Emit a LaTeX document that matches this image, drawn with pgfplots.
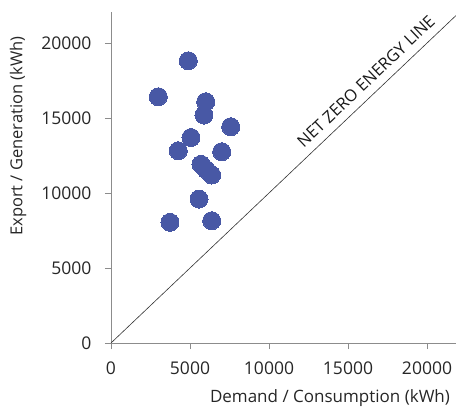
\documentclass[border=0pt]{standalone}
\usepackage{pgfplots}
\pgfplotsset{compat=1.18}
\usepackage{fontspec}
\setmainfont{Open Sans}
\definecolor{dotblue}{RGB}{72,88,165}
\definecolor{axgray}{RGB}{140,140,140}
\begin{document}
\begin{tikzpicture}
\useasboundingbox (-111pt,-65pt) rectangle (345pt,343pt);
\begin{axis}[
  scale only axis,
  width=345pt, height=331pt,
  xmin=0, xmax=21835, ymin=0, ymax=22070,
  axis x line=bottom, axis y line=left,
  axis line style={axgray, -},
  xtick={0,5000,10000,15000,20000},
  ytick={0,5000,10000,15000,20000},
  tick style={axgray, line width=0.6pt},
  tick align=outside,
  major tick length=6pt,
  scaled ticks=false,
  /pgf/number format/assume math mode=true,
  /pgf/number format/1000 sep={},
  ticklabel style={font=\fontsize{17.5}{19}\selectfont, text=black!85},
  xticklabel style={yshift=-9pt},
  yticklabel style={xshift=-10pt},
  clip=false,
]
\addplot[only marks, mark=*, mark size=9pt, color=dotblue, mark options={draw=dotblue, fill=dotblue, line width=0pt}] coordinates {
(2994,16420) (4892,18820) (5994,16087) (5886,15200) (7576,14420)
(5063,13700) (4259,12820) (7006,12753) (5696,11913) (6032,11553)
(6373,11200) (5570,9600) (3734,8047) (6373,8153)
};
\addplot[black!80, line width=0.6pt] coordinates {(0,0) (21835,21835)};
\node[rotate=43.5, anchor=south, inner sep=0pt, inner ysep=8pt, font=\fontsize{16.5}{18}\selectfont, text=black!90] at (axis cs:16760,16760) {NET ZERO ENERGY LINE};
\end{axis}
\node[font=\fontsize{17}{19}\selectfont, text=black!85, anchor=base] at (219pt,-59pt) {Demand / Consumption (kWh)};
\node[font=\fontsize{16.5}{18}\selectfont, text=black!85, rotate=90] at (-93pt,207pt) {Export / Generation (kWh)};
\end{tikzpicture}
\end{document}
